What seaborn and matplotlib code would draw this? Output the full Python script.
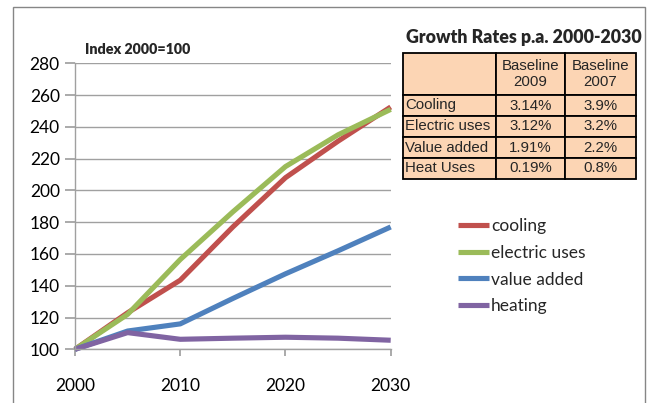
import pandas as pd
import matplotlib.pyplot as plt
import seaborn as sns
from matplotlib.patches import Rectangle

sns.set_theme(style='white')
plt.rcParams['font.family'] = ['Lato', 'DejaVu Sans']

# chart data
years = [2000, 2005, 2010, 2015, 2020, 2025, 2030]
cooling = [100, 123, 143.5, 177, 208, 231, 252.5]
electric_uses = [100, 122, 156.5, 186.5, 215, 235, 251]
value_added = [100, 111.5, 116, 132, 147.5, 162, 177]
heating = [100, 110.5, 106.3, 107, 107.6, 107, 105.7]
series_names = ['cooling', 'electric uses', 'value added', 'heating']
colors = ['#C0504D', '#9BBB59', '#4F81BD', '#8064A2']

# growth rate table
row_labels = ['Cooling', 'Electric uses', 'Value added', 'Heat Uses']
col_labels = ['Baseline\n2009', 'Baseline\n2007']
rate_2009 = ['3.14%', '3.12%', '1.91%', '0.19%']
rate_2007 = ['3.9%', '3.2%', '2.2%', '0.8%']

df = pd.DataFrame({
    'year': years * 4,
    'index': cooling + electric_uses + value_added + heating,
    'series': [n for n in series_names for _ in years],
})

fig = plt.figure(figsize=(6.56, 4.03), dpi=100)
W, H = 656, 403

# outer chart frame
fig.patches.append(Rectangle((13 / W, -0.1), 632 / W, 1.1 - 7 / H,
                             transform=fig.transFigure, fill=False,
                             edgecolor='#868686', linewidth=1))

ax = fig.add_axes([75 / W, 1 - 349.3 / H, (390.7 - 75) / W, (349.3 - 63.3) / H])
sns.lineplot(data=df, x='year', y='index', hue='series', palette=colors,
             linewidth=3.7, ax=ax, legend=False, clip_on=False)
for line in ax.lines:
    line.set_solid_capstyle('butt')
    line.set_solid_joinstyle('round')

ax.set_xlim(2000, 2030)
ax.set_ylim(100, 280)
ax.set_xticks([2000, 2010, 2020, 2030])
ax.set_yticks(range(100, 281, 20))
ax.set_xlabel('')
ax.set_ylabel('')
ax.yaxis.grid(True, color='#A0A0A0', linewidth=1)
ax.xaxis.grid(False)
for s in ['top', 'right']:
    ax.spines[s].set_visible(False)
for s in ['left', 'bottom']:
    ax.spines[s].set_color('#A0A0A0')
    ax.spines[s].set_linewidth(1)
ax.set_axisbelow(True)
ax.tick_params(axis='y', left=True, length=7, color='#A0A0A0', pad=4, labelsize=12.5,
               labelcolor='black')
ax.tick_params(axis='x', bottom=True, length=5, color='#A0A0A0', pad=16, labelsize=12.5,
               labelcolor='black')

fig.text(85 / W, 1 - 50 / H, 'Index 2000=100', fontsize=10.3, fontweight='heavy',
         va='center', ha='left')

# legend
handles = ax.lines[:4]
fig.legend(handles, series_names, loc='upper left',
           bbox_to_anchor=(458 / W, 1 - 218 / H), frameon=False, fontsize=12.5,
           handlelength=1.8, handletextpad=0.1, labelspacing=0.62, borderpad=0,
           borderaxespad=0)

# growth rates table
fig.text(524 / W, 1 - 37 / H, 'Growth Rates p.a. 2000-2030', fontsize=12.8,
         fontweight='heavy', ha='center', va='center')

tax = fig.add_axes([403 / W, 1 - 179 / H, (636 - 403) / W, (179 - 53) / H])
tax.axis('off')
cells = [['', col_labels[0], col_labels[1]]] + \
        [[r, a, b] for r, a, b in zip(row_labels, rate_2009, rate_2007)]
tbl = tax.table(cellText=cells, bbox=[0, 0, 1, 1], colWidths=[93, 69, 71],
                cellLoc='center')
tbl.auto_set_font_size(False)
for (r, c), cell in tbl.get_celld().items():
    cell.set_facecolor('#FCD5B4')
    cell.set_edgecolor('black')
    cell.set_linewidth(1.3)
    cell.set_height(2 if r == 0 else 1)
    txt = cell.get_text()
    txt.set_fontsize(10.8)
    txt.set_fontfamily(['Liberation Sans Narrow', 'Liberation Sans'])
    if c == 0:
        cell.set_text_props(ha='left')
        cell.PAD = 0.02

fig.savefig('out.png', dpi=100)
